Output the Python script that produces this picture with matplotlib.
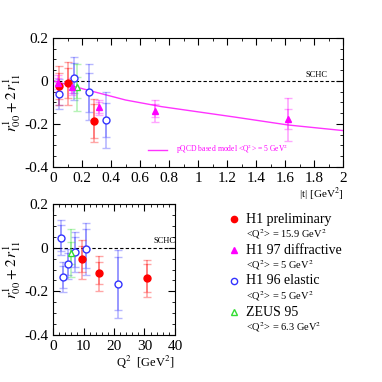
import numpy as np
import matplotlib
matplotlib.use("Agg")
from matplotlib import pyplot as plt
from matplotlib.ticker import MultipleLocator

plt.rcParams['font.family'] = ['Liberation Serif', 'DejaVu Serif']
plt.rcParams['mathtext.fontset'] = 'stix'

# top panel: vs |t|
h1p_t = [0.04, 0.106, 0.283]
h1p_y = [-0.023, -0.011, -0.186]
h1p_stat = [0.06, 0.07, 0.08]
h1p_tot = [0.09, 0.10, 0.10]

h97_t = [0.034, 0.133, 0.317, 0.70, 1.62]
h97_y = [-0.011, -0.027, -0.123, -0.139, -0.178]
h97_stat = [0.025, 0.03, 0.025, 0.03, 0.045]
h97_tot = [0.04, 0.04, 0.035, 0.05, 0.10]

h96_t = [0.04, 0.143, 0.248, 0.368]
h96_y = [-0.061, 0.012, -0.053, -0.183]
h96_stat = [0.05, 0.07, 0.09, 0.08]
h96_tot = [0.07, 0.10, 0.13, 0.13]

zeus_t = [0.168]
zeus_y = [-0.03]
zeus_stat = [0.05]
zeus_tot = [0.11]

model_t = [0.0, 0.25, 0.5, 0.75, 1.0, 1.25, 1.62, 2.0]
model_y = [0.0, -0.045, -0.089, -0.12, -0.144, -0.168, -0.205, -0.231]

# bottom panel: vs Q2
h1p_q = [9.6, 15.1, 30.8]
h1p_qy = [-0.053, -0.117, -0.14]
h1p_qstat = [0.06, 0.05, 0.065]
h1p_qtot = [0.09, 0.08, 0.085]

h96_q = [2.5, 3.3, 4.8, 7.2, 10.8, 21.3]
h96_qy = [0.045, -0.135, -0.075, -0.02, -0.005, -0.165]
h96_qstat = [0.06, 0.05, 0.05, 0.07, 0.09, 0.12]
h96_qtot = [0.08, 0.07, 0.07, 0.09, 0.12, 0.155]

zeus_q = [6.0]
zeus_qy = [-0.025]
zeus_qstat = [0.05]
zeus_qtot = [0.11]

ylab = r'$r^1_{00} + 2\,r^1_{11}$'
yticks = [-0.4, -0.2, 0, 0.2]
ylabels = ['-0.4', '-0.2', '0', '0.2']


def points(ax, x, y, stat, tot, color, marker, filled, ms):
    ax.errorbar(x, y, yerr=tot, fmt='none', ecolor=color, alpha=0.35, elinewidth=1.2, capsize=3)
    ax.errorbar(x, y, yerr=stat, fmt='none', ecolor=color, alpha=0.35, elinewidth=1.2, capsize=3)
    ax.plot(x, y, linestyle='none', marker=marker, ms=ms, mec=color,
            mfc=color if filled else 'white', mew=1, zorder=5)


def style(ax):
    ax.tick_params(direction='in', which='both', top=True, right=True, labelsize=11)
    ax.tick_params(which='major', length=5)
    ax.tick_params(which='minor', length=2.5)
    ax.yaxis.set_minor_locator(MultipleLocator(0.05))
    ax.set_ylim(-0.4, 0.2)
    ax.set_yticks(yticks)
    ax.set_yticklabels(ylabels)
    ax.axhline(0, color='black', ls='--', lw=0.8, dashes=(3, 2))


fig = plt.figure(figsize=(3.82, 3.82), dpi=100)

ax1 = fig.add_axes([0.139, 0.563, 0.759, 0.338])
style(ax1)
ax1.set_xlim(0, 2)
ax1.xaxis.set_minor_locator(MultipleLocator(0.1))
ax1.set_xticks([0, 0.2, 0.4, 0.6, 0.8, 1, 1.2, 1.4, 1.6, 1.8, 2])
ax1.set_xticklabels(['0', '0.2', '0.4', '0.6', '0.8', '1', '1.2', '1.4', '1.6', '1.8', '2'])
ax1.plot(model_t, model_y, color='#ff33ff', lw=1)
points(ax1, h96_t, h96_y, h96_stat, h96_tot, '#3333ff', 'o', False, 5)
points(ax1, zeus_t, zeus_y, zeus_stat, zeus_tot, '#33dd33', '^', False, 5)
points(ax1, h1p_t, h1p_y, h1p_stat, h1p_tot, '#ff0000', 'o', True, 5)
points(ax1, h97_t, h97_y, h97_stat, h97_tot, '#ff00ff', '^', True, 5)
ax1.text(1.82, 0.01, 'SCHC', fontsize=6, ha='center', va='bottom')
ax1.plot([0.655, 0.785], [-0.32, -0.32], color='#ff33ff', lw=1)
ax1.text(0.85, -0.32, r'pQCD based model <Q$^2$> = 5 GeV$^2$', color='#ff00ff', fontsize=5.5, va='center')
ax1.set_ylabel(ylab, fontsize=11, labelpad=1)
ax1.set_xlabel(r'|t| [GeV$^2$]', fontsize=8, loc='right', labelpad=1)

ax2 = fig.add_axes([0.139, 0.123, 0.319, 0.343])
style(ax2)
ax2.set_xlim(0, 40)
ax2.xaxis.set_major_locator(MultipleLocator(10))
ax2.xaxis.set_minor_locator(MultipleLocator(2))
points(ax2, h96_q, h96_qy, h96_qstat, h96_qtot, '#3333ff', 'o', False, 5)
points(ax2, zeus_q, zeus_qy, zeus_qstat, zeus_qtot, '#33dd33', '^', False, 5)
points(ax2, h1p_q, h1p_qy, h1p_qstat, h1p_qtot, '#ff0000', 'o', True, 5)
ax2.text(36.5, 0.01, 'SCHC', fontsize=6, ha='center', va='bottom')
ax2.set_ylabel(ylab, fontsize=11, labelpad=1)
ax2.set_xlabel(r'Q$^2$  [GeV$^2$]', fontsize=9, loc='right', labelpad=1)

# legend drawn as text
entries = [
    ('H1 preliminary', '<Q$^2$> = 15.9 GeV$^2$', '#ff0000', 'o', True),
    ('H1 97 diffractive', '<Q$^2$> = 5 GeV$^2$', '#ff00ff', '^', True),
    ('H1 96 elastic', '<Q$^2$> = 5 GeV$^2$', '#3333ff', 'o', False),
    ('ZEUS 95', '<Q$^2$> = 6.3 GeV$^2$', '#33dd33', '^', False),
]
y0 = 1 - 219 / 382
for i, (name, sub, c, m, f) in enumerate(entries):
    yy = y0 - i * 31 / 382
    fig.lines.append(plt.Line2D([234 / 382], [yy], transform=fig.transFigure, marker=m, ms=4.5,
                                mec=c, mfc=c if f else 'white', mew=1, linestyle='none'))
    fig.text(246 / 382, yy, name, fontsize=10, va='center')
    fig.text(246 / 382, yy - 15 / 382, sub, fontsize=7.5, va='center')

fig.savefig('out.png', dpi=100)
